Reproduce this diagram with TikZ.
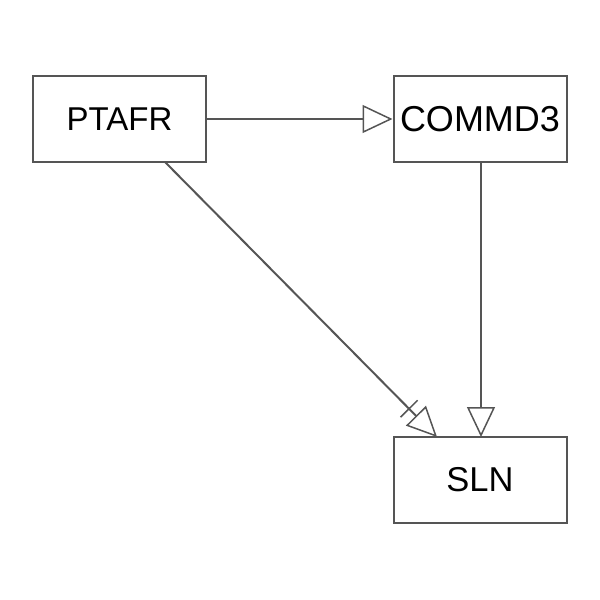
\documentclass[tikz,border=0pt]{standalone}
\usepackage{fontspec}
\setmainfont{Liberation Sans}
\usetikzlibrary{arrows.meta}
\definecolor{edge}{HTML}{555555}
\begin{document}
\begin{tikzpicture}[x=1pt,y=-1pt,
  box/.style={draw=edge,line width=2pt,fill=white,minimum width=173pt,minimum height=86pt,inner sep=0pt,font=\fontsize{33}{36}\selectfont},
  link/.style={draw=edge,line width=2pt},
  opentip/.style={-{Triangle[open,length=30pt,width=28pt,line width=1.5pt]}},
  bartip/.style={-{Bar[width=24pt,line width=1.5pt,sep=9pt]Triangle[open,length=30pt,width=28pt,line width=1.5pt]}}]
\useasboundingbox (0,0) rectangle (600,600);
\node[box] (ptafr) at (119.5,119) {PTAFR};
\node[box,font=\fontsize{36}{40}\selectfont] (commd3) at (480,119) {COMMD3};
\node[box,font=\fontsize{34.5}{38}\selectfont] (sln) at (480,480) {SLN};
\coordinate (a) at (165,162);
\coordinate (b) at (437,437);
\coordinate (c) at (481,162);
\coordinate (d) at (481,437);
\draw[link,opentip] (ptafr.east) -- (commd3.west);
\draw[link,bartip] (a) -- (b);
\draw[link,opentip] (c) -- (d);
\end{tikzpicture}
\end{document}
